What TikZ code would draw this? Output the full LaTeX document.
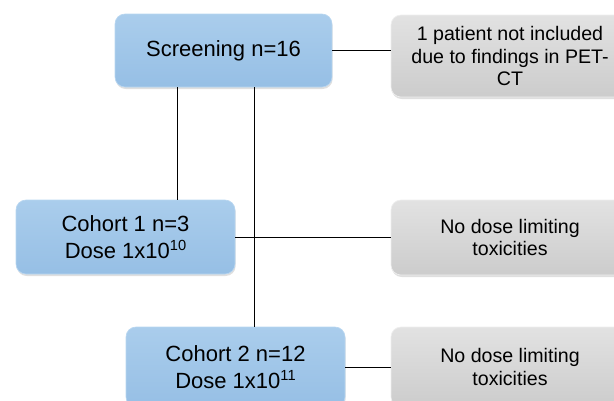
\documentclass[tikz,border=0pt]{standalone}
\usepackage{fontspec}
\setmainfont{Liberation Sans}
\usetikzlibrary{shadows}

\newcommand\expo[1]{\raisebox{0.36em}{\fontsize{11}{11}\selectfont #1}}

\tikzset{every picture/.style={line width=0.75pt}}
\tikzset{
  cohortbox/.style={rounded corners=7.5pt, inner sep=0pt, align=center,
    minimum width=164.25pt, minimum height=55.5pt,
    draw={rgb, 255:red, 184; green, 214; blue, 240}, line width=0.5pt,
    top color={rgb, 255:red, 170; green, 205; blue, 236},
    bottom color={rgb, 255:red, 150; green, 191; blue, 229},
    drop shadow={shadow xshift=0.5pt, shadow yshift=-1.5pt, opacity=0.25},
    font=\fontsize{16.5}{20.5}\selectfont},
  notebox/.style={rounded corners=7.5pt, inner sep=0pt, align=center,
    minimum width=178.5pt, minimum height=56.25pt,
    draw={rgb, 255:red, 238; green, 238; blue, 238}, line width=0.5pt,
    top color={rgb, 255:red, 226; green, 226; blue, 226},
    bottom color={rgb, 255:red, 204; green, 204; blue, 204},
    drop shadow={shadow xshift=0.5pt, shadow yshift=-1.5pt, opacity=0.25},
    font=\fontsize{14.7}{17}\selectfont}
}

\begin{document}
\begin{tikzpicture}[x=0.75pt,y=0.75pt,yscale=-1,xscale=1]
\useasboundingbox (0,0) rectangle (614,400);
\clip (0,0) rectangle (614,400);

%Rounded Rect [screening]
\node [cohortbox, minimum width=162.75pt, minimum height=54.75pt] (screen) at (223.5,50.5) {Screening n=16};
%Rounded Rect [excluded]
\node [notebox, minimum height=61.5pt] (excl) at (510,56) {1 patient not included\\due to findings in PET-\\CT};
%Rounded Rect [cohort 1]
\node [cohortbox] (coh1) at (125.5,237) {Cohort 1 n=3\\Dose 1x10\expo{10}};
%Rounded Rect [no dlt 1]
\node [notebox] (tox1) at (510,237.5) {No dose limiting\\toxicities};
%Rounded Rect [cohort 2]
\node [cohortbox, minimum height=60pt] (coh2) at (235.5,367) {Cohort 2 n=12\\Dose 1x10\expo{11}};
%Rounded Rect [no dlt 2]
\node [notebox, minimum height=60pt] (tox2) at (510,367) {No dose limiting\\toxicities};

\coordinate (b1) at (177,0);
\coordinate (b2) at (254,0);

%Straight Lines
\draw (screen.east) -- (screen.east -| excl.west) ;
\draw (screen.south -| b1) -- (coh1.north -| b1) ;
\draw (screen.south -| b2) -- (coh2.north -| b2) ;
\draw (coh1.east) -- (coh1.east -| tox1.west) ;
\draw (coh2.east) -- (coh2.east -| tox2.west) ;

\end{tikzpicture}
\end{document}
